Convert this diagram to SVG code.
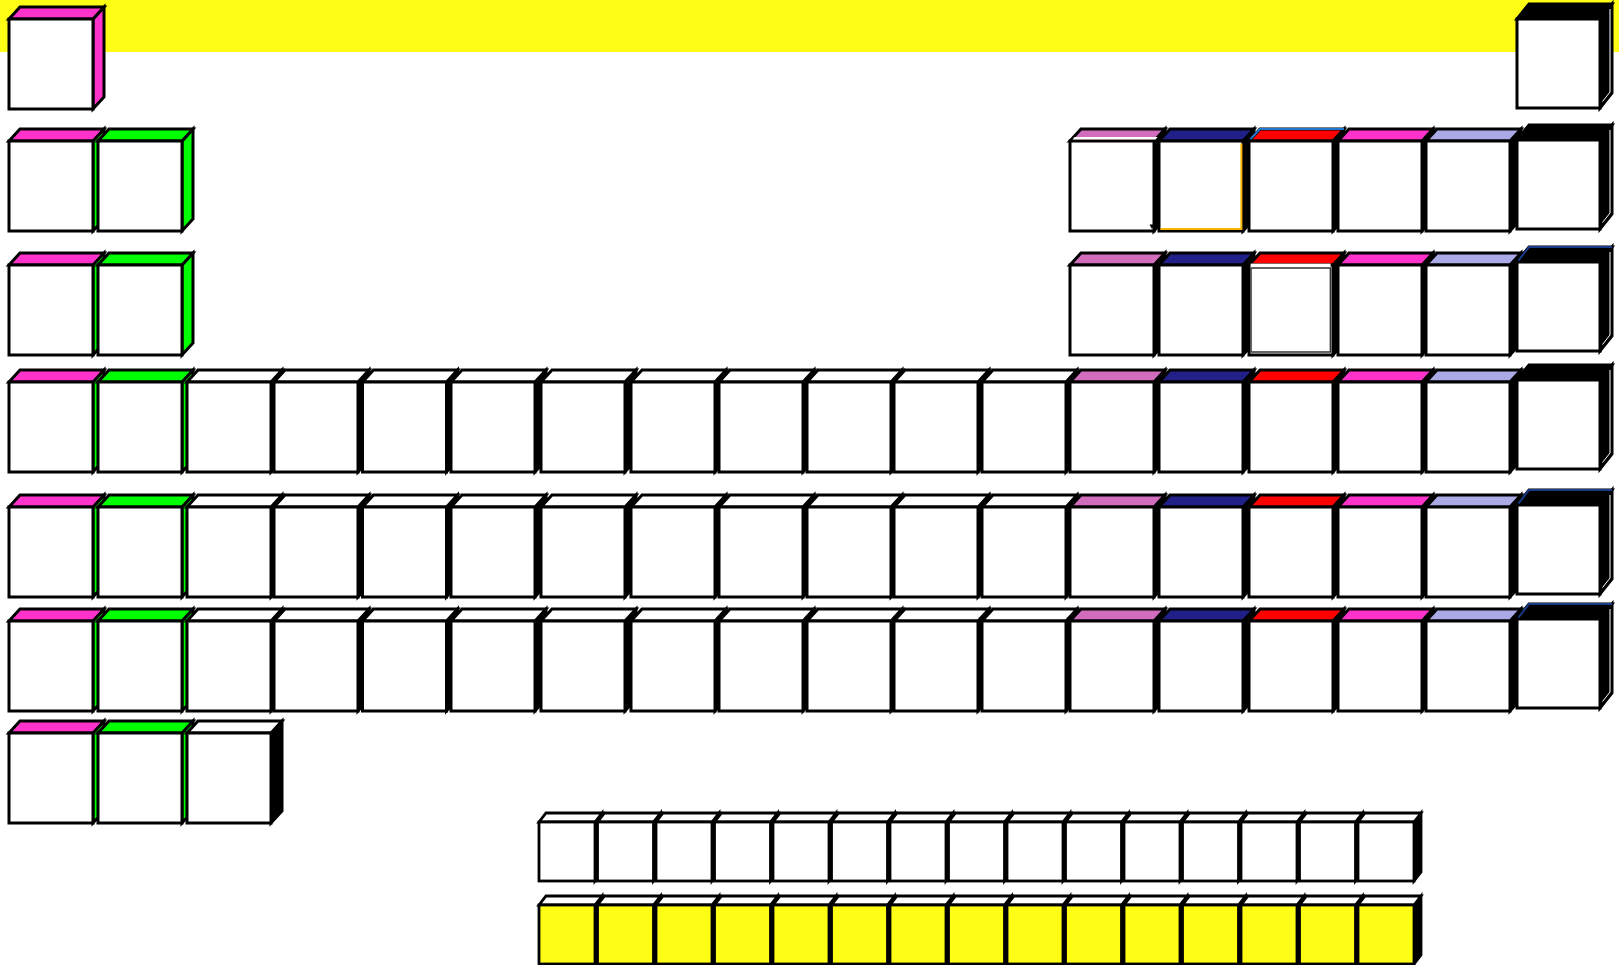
<svg xmlns="http://www.w3.org/2000/svg" xmlns:xlink="http://www.w3.org/1999/xlink" width="1619" height="965" viewBox="0 0 1619 965">
<style>
.q{fill:none;stroke-width:2}
</style>
<defs>
<g id="box" stroke="#000" stroke-width="3">
<path d="M84 0 L95 -12 L95 78 L84 90 Z" fill="currentColor"/>
<path d="M0 0 L11 -12 L95 -12 L84 0 Z"/>
<rect width="84" height="90" fill="#fff"/>
</g>
<g id="nbox" stroke="#000" stroke-width="3">
<path d="M83 0 L95 -15 L95 74 L83 89 Z" fill="#000"/>
<path d="M0 0 L12 -15 L95 -15 L83 0 Z" fill="#000"/>
<rect width="83" height="89" fill="#fff"/>
<polyline points="93,-10 93,73 85.5,82.5" fill="none" stroke="#fff" stroke-width="1"/>
</g>
<g id="lbox" stroke="#000" stroke-width="2.8">
<path d="M56 0 L63 -9 L63 50 L56 59 Z" fill="#000"/>
<path d="M0 0 L7 -9 L63 -9 L56 0 Z" fill="#fff"/>
<rect width="56" height="59"/>
</g>
</defs>
<rect id="band" x="0" y="0" width="1619" height="52" fill="#FDFD16"/>

<!-- Period 1 -->
<g id="p1-g1"><use href="#box" x="9" y="19" fill="#FF33CC" color="#FF33CC"/></g>
<g id="p1-g18"><use href="#nbox" x="1517" y="19"/></g>

<!-- Period 2 -->
<g id="p2-g1"><use href="#box" x="9" y="141" fill="#FF33CC" color="#00FF00"/></g>
<g id="p2-g2"><use href="#box" x="98" y="141" fill="#00FF00" color="#00FF00"/></g>
<g id="p2-g13"><use href="#box" x="1070" y="141" fill="#D26CBD" color="#000"/><polygon points="1072.5,139.4 1074.6,137 1157.6,137 1155.5,139.4" fill="#fff"/><polygon points="1149.5,224.5 1154.5,224.5 1152,229" fill="#000"/></g>
<g id="p2-g14"><use href="#box" x="1159" y="141" fill="#202088" color="#000"/><polyline class="q" points="1241.4,143.5 1241.4,229 1160.5,229" stroke="#F7B500"/></g>
<g id="p2-g15"><use href="#box" x="1249" y="141" fill="#FF0000" color="#000"/><polyline class="q" points="1250.5,139 1260,129 1344,129" stroke="#1E78D2"/></g>
<g id="p2-g16"><use href="#box" x="1338" y="141" fill="#FF33CC" color="#000"/></g>
<g id="p2-g17"><use href="#box" x="1426" y="141" fill="#AAAAE6" color="#000"/></g>
<g id="p2-g18"><use href="#nbox" x="1517" y="140"/></g>

<!-- Period 3 -->
<g id="p3-g1"><use href="#box" x="9" y="265" fill="#FF33CC" color="#00FF00"/></g>
<g id="p3-g2"><use href="#box" x="98" y="265" fill="#00FF00" color="#00FF00"/></g>
<g id="p3-g13"><use href="#box" x="1070" y="265" fill="#D26CBD" color="#000"/></g>
<g id="p3-g14"><use href="#box" x="1159" y="265" fill="#202088" color="#000"/></g>
<g id="p3-g15"><use href="#box" x="1249" y="265" fill="#FF0000" color="#000"/><rect x="1250.6" y="263.6" width="80" height="89.4" fill="#fff"/><rect x="1251" y="268" width="79.4" height="84" fill="none" stroke="#333" stroke-width="1.5"/></g>
<g id="p3-g16"><use href="#box" x="1338" y="265" fill="#FF33CC" color="#000"/></g>
<g id="p3-g17"><use href="#box" x="1426" y="265" fill="#AAAAE6" color="#000"/></g>
<g id="p3-g18"><use href="#nbox" x="1517" y="262"/><polyline class="q" points="1518.5,260.5 1529,247 1612,247" stroke="#1A3A8A"/></g>

<!-- Period 4 -->
<g id="p4-g1"><use href="#box" x="9" y="382" fill="#FF33CC" color="#00FF00"/></g>
<g id="p4-g2"><use href="#box" x="98" y="382" fill="#00FF00" color="#00FF00"/></g>
<g id="p4-g3"><use href="#box" x="187" y="382" fill="#fff" color="#000"/></g>
<g id="p4-g4"><use href="#box" x="274" y="382" fill="#fff" color="#000"/></g>
<g id="p4-g5"><use href="#box" x="362.5" y="382" fill="#fff" color="#000"/></g>
<g id="p4-g6"><use href="#box" x="451" y="382" fill="#fff" color="#000"/></g>
<g id="p4-g7"><use href="#box" x="541" y="382" fill="#fff" color="#000"/></g>
<g id="p4-g8"><use href="#box" x="631" y="382" fill="#fff" color="#000"/></g>
<g id="p4-g9"><use href="#box" x="719" y="382" fill="#fff" color="#000"/></g>
<g id="p4-g10"><use href="#box" x="807" y="382" fill="#fff" color="#000"/></g>
<g id="p4-g11"><use href="#box" x="894" y="382" fill="#fff" color="#000"/></g>
<g id="p4-g12"><use href="#box" x="982" y="382" fill="#fff" color="#000"/></g>
<g id="p4-g13"><use href="#box" x="1070" y="382" fill="#D26CBD" color="#000"/></g>
<g id="p4-g14"><use href="#box" x="1159" y="382" fill="#202088" color="#000"/></g>
<g id="p4-g15"><use href="#box" x="1249" y="382" fill="#FF0000" color="#000"/></g>
<g id="p4-g16"><use href="#box" x="1338" y="382" fill="#FF33CC" color="#000"/></g>
<g id="p4-g17"><use href="#box" x="1426" y="382" fill="#AAAAE6" color="#000"/></g>
<g id="p4-g18"><use href="#nbox" x="1517" y="380"/></g>

<!-- Period 5 -->
<g id="p5-g1"><use href="#box" x="9" y="507" fill="#FF33CC" color="#00FF00"/></g>
<g id="p5-g2"><use href="#box" x="98" y="507" fill="#00FF00" color="#00FF00"/></g>
<g id="p5-g3"><use href="#box" x="187" y="507" fill="#fff" color="#000"/></g>
<g id="p5-g4"><use href="#box" x="274" y="507" fill="#fff" color="#000"/></g>
<g id="p5-g5"><use href="#box" x="362.5" y="507" fill="#fff" color="#000"/></g>
<g id="p5-g6"><use href="#box" x="451" y="507" fill="#fff" color="#000"/></g>
<g id="p5-g7"><use href="#box" x="541" y="507" fill="#fff" color="#000"/></g>
<g id="p5-g8"><use href="#box" x="631" y="507" fill="#fff" color="#000"/></g>
<g id="p5-g9"><use href="#box" x="719" y="507" fill="#fff" color="#000"/></g>
<g id="p5-g10"><use href="#box" x="807" y="507" fill="#fff" color="#000"/></g>
<g id="p5-g11"><use href="#box" x="894" y="507" fill="#fff" color="#000"/></g>
<g id="p5-g12"><use href="#box" x="982" y="507" fill="#fff" color="#000"/></g>
<g id="p5-g13"><use href="#box" x="1070" y="507" fill="#D26CBD" color="#000"/></g>
<g id="p5-g14"><use href="#box" x="1159" y="507" fill="#202088" color="#000"/></g>
<g id="p5-g15"><use href="#box" x="1249" y="507" fill="#FF0000" color="#000"/></g>
<g id="p5-g16"><use href="#box" x="1338" y="507" fill="#FF33CC" color="#000"/></g>
<g id="p5-g17"><use href="#box" x="1426" y="507" fill="#AAAAE6" color="#000"/></g>
<g id="p5-g18"><use href="#nbox" x="1517" y="505"/><polyline class="q" points="1518.5,503.5 1529,490 1612,490" stroke="#1A3A8A"/></g>

<!-- Period 6 -->
<g id="p6-g1"><use href="#box" x="9" y="621" fill="#FF33CC" color="#00FF00"/></g>
<g id="p6-g2"><use href="#box" x="98" y="621" fill="#00FF00" color="#00FF00"/></g>
<g id="p6-g3"><use href="#box" x="187" y="621" fill="#fff" color="#000"/></g>
<g id="p6-g4"><use href="#box" x="274" y="621" fill="#fff" color="#000"/></g>
<g id="p6-g5"><use href="#box" x="362.5" y="621" fill="#fff" color="#000"/></g>
<g id="p6-g6"><use href="#box" x="451" y="621" fill="#fff" color="#000"/></g>
<g id="p6-g7"><use href="#box" x="541" y="621" fill="#fff" color="#000"/></g>
<g id="p6-g8"><use href="#box" x="631" y="621" fill="#fff" color="#000"/></g>
<g id="p6-g9"><use href="#box" x="719" y="621" fill="#fff" color="#000"/></g>
<g id="p6-g10"><use href="#box" x="807" y="621" fill="#fff" color="#000"/></g>
<g id="p6-g11"><use href="#box" x="894" y="621" fill="#fff" color="#000"/></g>
<g id="p6-g12"><use href="#box" x="982" y="621" fill="#fff" color="#000"/></g>
<g id="p6-g13"><use href="#box" x="1070" y="621" fill="#D26CBD" color="#000"/></g>
<g id="p6-g14"><use href="#box" x="1159" y="621" fill="#202088" color="#000"/></g>
<g id="p6-g15"><use href="#box" x="1249" y="621" fill="#FF0000" color="#000"/></g>
<g id="p6-g16"><use href="#box" x="1338" y="621" fill="#FF33CC" color="#000"/></g>
<g id="p6-g17"><use href="#box" x="1426" y="621" fill="#AAAAE6" color="#000"/></g>
<g id="p6-g18"><use href="#nbox" x="1517" y="619"/><polyline class="q" points="1518.5,617.5 1529,604 1612,604" stroke="#1A3A8A"/></g>

<!-- Period 7 -->
<g id="p7-g1"><use href="#box" x="9" y="733" fill="#FF33CC" color="#00FF00"/></g>
<g id="p7-g2"><use href="#box" x="98" y="733" fill="#00FF00" color="#00FF00"/></g>
<g id="p7-g3"><use href="#box" x="187" y="733" fill="#fff" color="#000"/></g>

<!-- Lanthanide row -->
<g id="ln-1"><use href="#lbox" x="539" y="822" fill="#fff"/></g>
<g id="ln-2"><use href="#lbox" x="597.5" y="822" fill="#fff"/></g>
<g id="ln-3"><use href="#lbox" x="656" y="822" fill="#fff"/></g>
<g id="ln-4"><use href="#lbox" x="714.5" y="822" fill="#fff"/></g>
<g id="ln-5"><use href="#lbox" x="773" y="822" fill="#fff"/></g>
<g id="ln-6"><use href="#lbox" x="831.5" y="822" fill="#fff"/></g>
<g id="ln-7"><use href="#lbox" x="890" y="822" fill="#fff"/></g>
<g id="ln-8"><use href="#lbox" x="948.5" y="822" fill="#fff"/></g>
<g id="ln-9"><use href="#lbox" x="1007" y="822" fill="#fff"/></g>
<g id="ln-10"><use href="#lbox" x="1065.5" y="822" fill="#fff"/></g>
<g id="ln-11"><use href="#lbox" x="1124" y="822" fill="#fff"/></g>
<g id="ln-12"><use href="#lbox" x="1182.5" y="822" fill="#fff"/></g>
<g id="ln-13"><use href="#lbox" x="1241" y="822" fill="#fff"/></g>
<g id="ln-14"><use href="#lbox" x="1299.5" y="822" fill="#fff"/></g>
<g id="ln-15"><use href="#lbox" x="1358" y="822" fill="#fff"/></g>

<!-- Actinide row -->
<g id="an-1"><use href="#lbox" x="539" y="905" fill="#FDFD16"/></g>
<g id="an-2"><use href="#lbox" x="597.5" y="905" fill="#FDFD16"/></g>
<g id="an-3"><use href="#lbox" x="656" y="905" fill="#FDFD16"/></g>
<g id="an-4"><use href="#lbox" x="714.5" y="905" fill="#FDFD16"/></g>
<g id="an-5"><use href="#lbox" x="773" y="905" fill="#FDFD16"/></g>
<g id="an-6"><use href="#lbox" x="831.5" y="905" fill="#FDFD16"/></g>
<g id="an-7"><use href="#lbox" x="890" y="905" fill="#FDFD16"/></g>
<g id="an-8"><use href="#lbox" x="948.5" y="905" fill="#FDFD16"/></g>
<g id="an-9"><use href="#lbox" x="1007" y="905" fill="#FDFD16"/></g>
<g id="an-10"><use href="#lbox" x="1065.5" y="905" fill="#FDFD16"/></g>
<g id="an-11"><use href="#lbox" x="1124" y="905" fill="#FDFD16"/></g>
<g id="an-12"><use href="#lbox" x="1182.5" y="905" fill="#FDFD16"/></g>
<g id="an-13"><use href="#lbox" x="1241" y="905" fill="#FDFD16"/></g>
<g id="an-14"><use href="#lbox" x="1299.5" y="905" fill="#FDFD16"/></g>
<g id="an-15"><use href="#lbox" x="1358" y="905" fill="#FDFD16"/></g>
</svg>
